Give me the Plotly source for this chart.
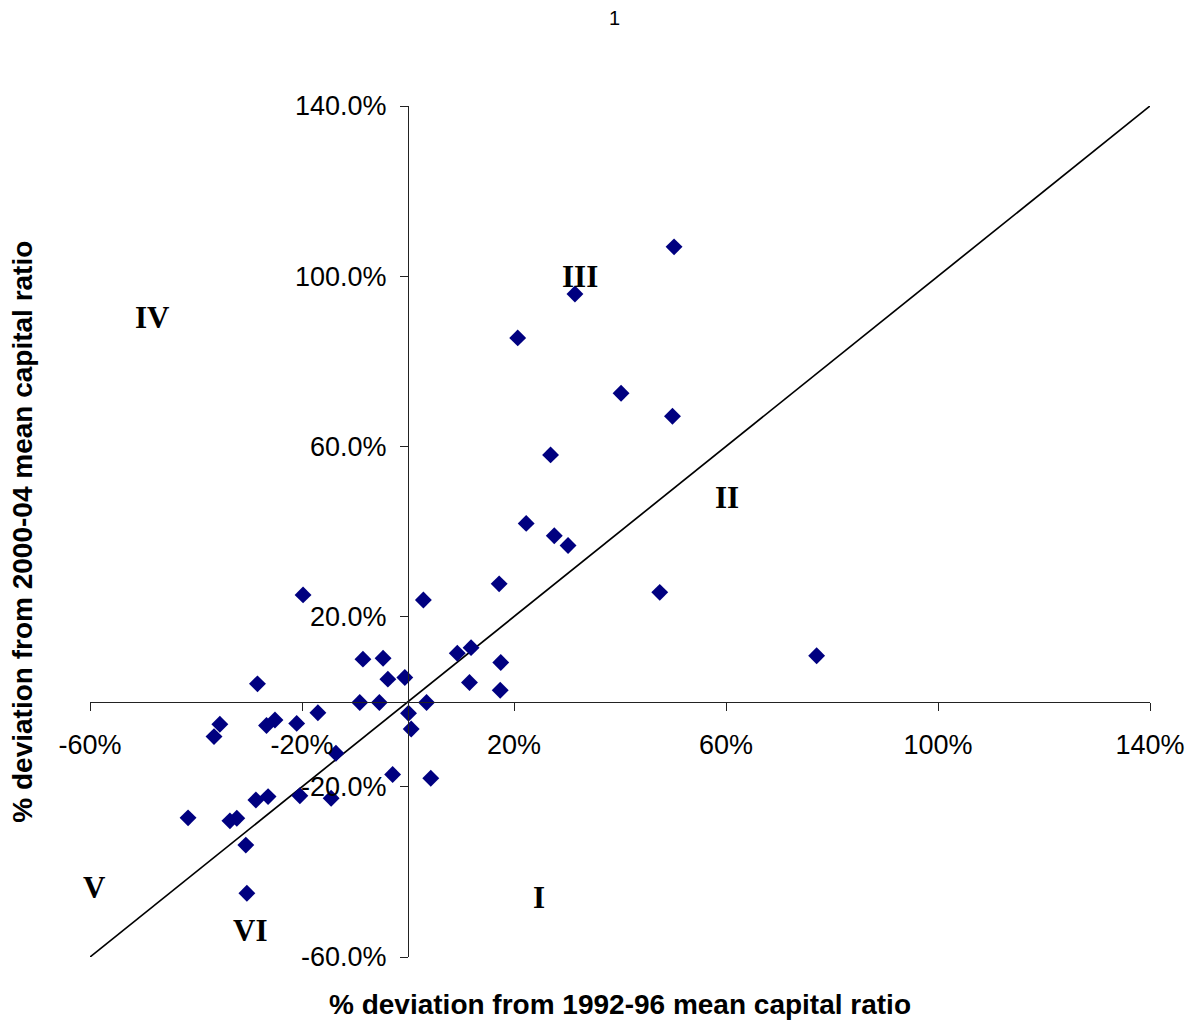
import plotly.graph_objects as go

# % deviation from 1992-96 mean capital ratio
x_dev_1992_96 = [
    -19.8, 2.9, -8.5, -4.7, -3.8, -0.6, -28.4, -9.1, -5.4, 3.5,
    0.1, 0.6, -17.0, -21.0, -25.1, -26.7, -35.5, -36.6, -13.6, -2.9,
    4.3, -20.4, -14.5, -26.4, -28.7, -41.5, -33.6, -32.3, -30.6, -30.4,
    17.2, 47.5, 9.3, 11.9, 17.5, 11.6, 17.4, 77.1,
    50.2, 31.5, 20.7, 40.2, 49.9, 26.9, 22.3, 27.6, 30.2,
]
# % deviation from 2000-04 mean capital ratio
y_dev_2000_04 = [
    25.1, 23.9, 10.0, 10.2, 5.3, 5.7, 4.2, -0.2, -0.2, -0.2,
    -2.7, -6.4, -2.6, -5.1, -4.3, -5.6, -5.3, -8.2, -12.1, -17.1,
    -18.0, -22.1, -22.7, -22.3, -23.1, -27.3, -28.0, -27.4, -33.7, -45.0,
    27.7, 25.7, 11.4, 12.7, 9.2, 4.5, 2.7, 10.8,
    106.9, 95.8, 85.5, 72.5, 67.1, 58.0, 41.9, 39.0, 36.7,
]
# 45-degree reference line
diag_x = [-60, 140]
diag_y = [-60, 140]

x_tickvals = [-60, -20, 20, 60, 100, 140]
x_ticktext = ["-60%", "-20%", "20%", "60%", "100%", "140%"]
y_tickvals = [-60, -20, 20, 60, 100, 140]
y_ticktext = ["-60.0%", "-20.0%", "20.0%", "60.0%", "100.0%", "140.0%"]

region_labels = ["III", "IV", "II", "V", "I", "VI"]
region_x = [32.5, -48.3, 60.2, -59.1, 24.7, -29.8]
region_y = [100.0, 90.2, 48.1, -43.6, -45.9, -53.7]

AX = "#222222"
SANS = "Liberation Sans, Arial, sans-serif"
SERIF = "Liberation Serif, Times New Roman, serif"

fig = go.Figure()
fig.add_trace(go.Scatter(
    x=diag_x, y=diag_y, mode="lines",
    line=dict(color="black", width=1.7), hoverinfo="skip", showlegend=False,
))
fig.add_trace(go.Scatter(
    x=x_dev_1992_96, y=y_dev_2000_04, mode="markers",
    marker=dict(symbol="diamond", size=13, color="#000080",
                line=dict(width=0)),
    showlegend=False,
))

annotations = []
for t, xx, yy in zip(region_labels, region_x, region_y):
    annotations.append(dict(
        x=xx, y=yy, xref="x", yref="y", text="<b>%s</b>" % t, showarrow=False,
        font=dict(family=SERIF, size=31, color="black"),
        xanchor="center", yanchor="middle",
    ))
annotations.append(dict(
    x=0.5, y=-0.0564, xref="paper", yref="paper",
    text="<b>% deviation from 1992-96 mean capital ratio</b>", showarrow=False,
    font=dict(family=SANS, size=28, color="black"),
    xanchor="center", yanchor="middle",
))
annotations.append(dict(
    x=-0.064, y=0.5, xref="paper", yref="paper", textangle=-90,
    text="<b>% deviation from 2000-04 mean capital ratio</b>", showarrow=False,
    font=dict(family=SANS, size=28, color="black"),
    xanchor="center", yanchor="middle",
))
annotations.append(dict(
    x=0.495, y=1.1034, xref="paper", yref="paper", text="1", showarrow=False,
    font=dict(family=SANS, size=20, color="black"),
    xanchor="center", yanchor="middle",
))

fig.update_layout(
    width=1202, height=1023,
    margin=dict(l=90, r=52, t=106, b=66),
    paper_bgcolor="white", plot_bgcolor="white",
    font=dict(family=SANS, size=27, color="black"),
    showlegend=False,
    annotations=annotations,
    xaxis=dict(
        range=[-60, 140], domain=[0, 1], anchor="free", position=0.3,
        tickvals=x_tickvals, ticktext=x_ticktext,
        showline=True, linecolor=AX, linewidth=1.2,
        ticks="outside", ticklen=8, tickcolor=AX, tickwidth=1.2,
        showgrid=False, zeroline=False, ticklabelstandoff=11,
        tickfont=dict(size=27),
    ),
    yaxis=dict(
        range=[-60, 140], domain=[0, 1], anchor="free", position=0.3,
        tickvals=y_tickvals, ticktext=y_ticktext,
        showline=True, linecolor=AX, linewidth=1.2,
        ticks="outside", ticklen=8, tickcolor=AX, tickwidth=1.2,
        showgrid=False, zeroline=False, ticklabelstandoff=8,
        tickfont=dict(size=27),
    ),
)

fig.write_html(
    "out.html",
    config={"displayModeBar": False},
    post_script="document.body.style.margin='0';document.body.style.overflow='hidden';",
)
